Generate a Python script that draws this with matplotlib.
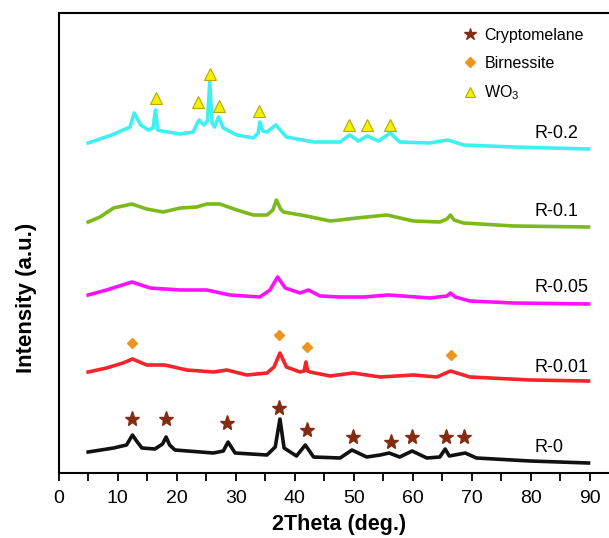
import matplotlib
matplotlib.use("Agg")
import matplotlib.pyplot as plt
from matplotlib.lines import Line2D

plt.rcParams['font.family'] = ['Liberation Sans', 'DejaVu Sans']
plt.rcParams['mathtext.fontset'] = 'custom'
plt.rcParams['mathtext.rm'] = 'Liberation Sans'
plt.rcParams['mathtext.default'] = 'regular'

# 2theta / intensity (a.u., stacked)
theta_r02 = [5.0, 9.0, 12.1, 12.8, 13.9, 15.2, 16.0, 16.4, 16.8, 17.5, 20.6, 22.8, 23.5, 23.8,
             24.6, 25.2, 25.6, 26.0, 26.4, 27.1, 27.9, 30.2, 33.0, 33.8, 34.1, 34.6, 35.3,
             36.8, 38.6, 43.2, 46.0, 47.7, 49.3, 50.8, 52.3, 54.2, 56.2, 57.8, 62.9, 66.0,
             68.6, 77.1, 89.8]
int_r02 = [330, 338, 346, 360, 348, 343, 345, 363, 343, 342, 339, 341, 350, 353,
           348, 352, 391, 350, 346, 356, 345, 338, 335, 340, 351, 342, 341,
           348, 336, 331, 331, 331, 338, 332, 337, 332, 340, 331, 330, 333,
           328, 326, 324]

theta_r01 = [5.0, 7.0, 9.3, 12.4, 14.9, 17.7, 20.6, 23.4, 25.1, 27.3, 30.2, 33.0, 35.3,
             36.3, 36.9, 37.6, 38.1, 42.0, 46.0, 47.7, 50.5, 55.6, 60.1, 64.6, 65.8,
             66.4, 67.0, 68.6, 77.1, 89.8]
int_r01 = [251, 256, 265, 269, 264, 261, 265, 266, 269, 269, 263, 258, 258,
           263, 273, 264, 261, 257, 252, 253, 255, 258, 252, 251, 254,
           258, 253, 250, 247, 246]

theta_r005 = [5.0, 8.1, 12.4, 15.5, 20.6, 25.1, 29.0, 34.1, 35.8, 37.1, 38.4, 40.9, 42.3,
              44.3, 47.7, 51.6, 55.9, 62.9, 65.8, 66.4, 67.2, 69.7, 77.1, 89.8]
int_r005 = [178, 183, 191, 185, 183, 183, 178, 176, 183, 196, 185, 180, 183,
            177, 176, 176, 178, 175, 177, 180, 176, 172, 170, 169]

theta_r001 = [5.0, 8.1, 10.9, 12.5, 14.9, 18.0, 21.7, 26.2, 28.5, 31.9, 35.3, 36.5, 37.5,
              38.6, 40.9, 41.6, 41.9, 42.2, 42.6, 46.0, 49.9, 54.5, 60.1, 64.1, 66.4,
              69.7, 79.9, 89.8]
int_r001 = [101, 105, 110, 114, 108, 108, 103, 101, 103, 98, 100, 106, 120,
            106, 101, 102, 111, 102, 101, 97, 100, 96, 98, 96, 102,
            96, 93, 92]

theta_r0 = [5.0, 9.3, 11.5, 12.5, 13.2, 14.1, 16.3, 17.6, 18.2, 18.8, 19.7, 26.2, 27.9,
            28.7, 29.9, 35.3, 36.7, 37.5, 38.2, 40.3, 41.8, 43.2, 47.7, 49.7, 52.2,
            54.5, 56.0, 57.8, 59.9, 62.4, 64.6, 65.5, 66.2, 68.9, 70.8, 79.9, 89.8]
int_r0 = [21, 25, 28, 38, 32, 25, 24, 29, 36, 28, 23, 20, 22,
          31, 20, 18, 26, 54, 25, 17, 28, 16, 15, 23, 16,
          18, 20, 16, 22, 15, 16, 24, 17, 20, 15, 12, 10]

# phase markers
crypto_theta = [12.5, 18.2, 28.6, 37.3, 42.0, 49.9, 56.3, 59.8, 65.6, 68.7]
crypto_int = [54, 54, 50, 65, 43, 36, 31, 36, 36, 36]
birn_theta = [12.5, 37.3, 42.0, 66.5]
birn_int = [130, 138, 126, 118]
wo3_theta = [16.5, 23.6, 25.6, 27.1, 34.0, 49.2, 52.3, 56.1]
wo3_int = [375, 371, 399, 367, 362, 348, 348, 348]

sample_names = ['R-0.2', 'R-0.1', 'R-0.05', 'R-0.01', 'R-0']
label_int = [340, 261, 185, 106, 26]

series = [(theta_r02, int_r02, '#3ff0f0'),
          (theta_r01, int_r01, '#7db91c'),
          (theta_r005, int_r005, '#ff10ff'),
          (theta_r001, int_r001, '#f5242a'),
          (theta_r0, int_r0, '#111111')]

fig = plt.figure(figsize=(6.09, 5.38), dpi=100)
ax = fig.add_axes([58.7 / 609, 65 / 538, 560.5 / 609, 460 / 538])

for (th, inten, col), name, ly in zip(series, sample_names, label_int):
    ax.plot(th, inten, color=col, lw=2.6, solid_joinstyle='round')
    ax.text(80.7, ly, name, fontsize=13, ha='left', va='center')

star_col = '#832c12'
diam_col = '#f0921e'
ax.plot(crypto_theta, crypto_int, ls='none', marker='*', ms=11, color=star_col)
ax.plot(birn_theta, birn_int, ls='none', marker='D', ms=5.5, color=diam_col)
ax.plot(wo3_theta, wo3_int, ls='none', marker='^', ms=8, markerfacecolor='#f2f200',
        markeredgecolor='#b8a800', markeredgewidth=0.8)

ax.set_xlim(0, 95)
ax.set_ylim(0, 460)
ax.set_xticks(range(0, 100, 10))
ax.set_xticks(range(5, 90, 10), minor=True)
ax.set_xticklabels([str(v) for v in range(0, 100, 10)])
ax.set_yticks([])
ax.tick_params(axis='x', which='both', direction='out', length=5.5, width=1.3,
               labelsize=14, pad=7)
for s in ax.spines.values():
    s.set_linewidth(1.5)

ax.set_xlabel('2Theta (deg.)', fontsize=15.5, fontweight='bold')
ax.set_ylabel('Intensity (a.u.)', fontsize=16, fontweight='bold')
ax.xaxis.set_label_coords(0.5, -0.089)
ax.yaxis.set_label_coords(-0.038, 0.38)

handles = [Line2D([], [], ls='none', marker='*', ms=9, color=star_col),
           Line2D([], [], ls='none', marker='D', ms=5, color=diam_col),
           Line2D([], [], ls='none', marker='^', ms=7, markerfacecolor='#f2f200',
                  markeredgecolor='#b8a800', markeredgewidth=0.8)]
ax.legend(handles, ['Cryptomelane', 'Birnessite', 'WO$_3$'], loc='upper left',
          bbox_to_anchor=(463.6 / 609, 1 - 28 / 538), bbox_transform=fig.transFigure,
          frameon=False, fontsize=11.5, handlelength=0.8, handletextpad=0.5,
          borderpad=0, borderaxespad=0, labelspacing=0.8)

fig.savefig('out.png', dpi=100)
